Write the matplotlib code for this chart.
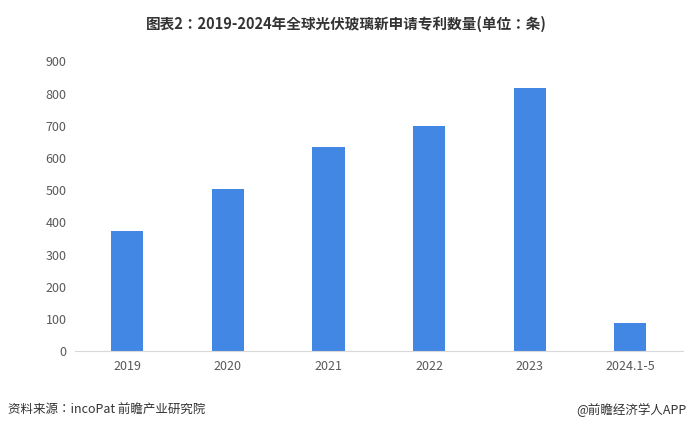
import matplotlib
matplotlib.use("Agg")
import matplotlib.pyplot as plt
from matplotlib import font_manager as fm

cjk = [f for f in fm.fontManager.ttflist if "CJK" in f.name]
names = sorted({f.name for f in cjk})
pick = next((n for n in names if "SC" in n), names[0] if names else "DejaVu Sans")
plt.rcParams["font.family"] = [pick, "DejaVu Sans"]

categories = ["2019", "2020", "2021", "2022", "2023", "2024.1-5"]
values = [372, 503, 633, 699, 816, 87]
yticks = [0, 100, 200, 300, 400, 500, 600, 700, 800, 900]

fig = plt.figure(figsize=(6.93, 4.32), dpi=100)
ax = fig.add_axes([0.108, 0.187, 0.877, 0.671])
x = range(len(categories))
ax.bar(x, values, width=0.32, color="#4387e5")
ax.set_xlim(-0.52, 5.52)
ax.set_ylim(0, 900)
ax.set_yticks(yticks)
ax.set_xticks(list(x))
ax.set_xticklabels(categories)
ax.tick_params(length=0, labelsize=9, colors="#595959", pad=6)
for s in ["top", "right", "left"]:
    ax.spines[s].set_visible(False)
ax.spines["bottom"].set_color("#d9d9d9")

fig.text(0.5, 0.945, "图表2：2019-2024年全球光伏玻璃新申请专利数量(单位：条)",
         ha="center", va="center", fontsize=10.5, fontweight="bold", color="#333333")
fig.text(0.012, 0.05, "资料来源：incoPat 前瞻产业研究院", ha="left", va="center",
         fontsize=9, color="#333333")
fig.text(0.99, 0.05, "@前瞻经济学人APP", ha="right", va="center",
         fontsize=9, color="#333333")
fig.savefig("out.png", dpi=100)
